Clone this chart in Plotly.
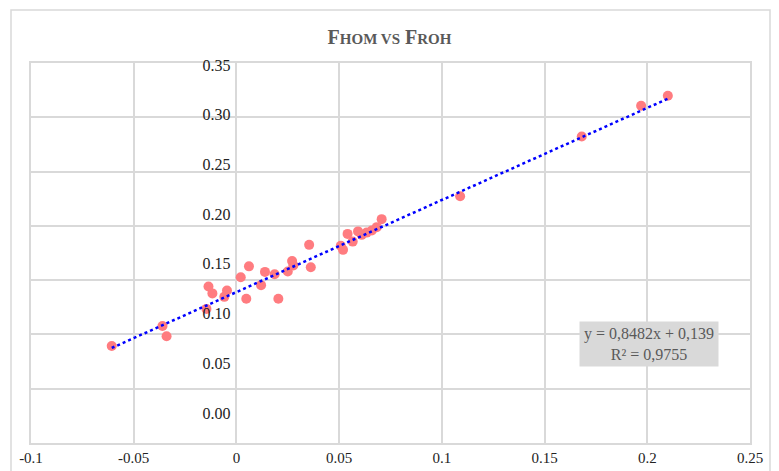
import plotly.graph_objects as go

# Data
froh = [-0.0607, -0.0360, -0.0340, -0.0136, -0.0117, -0.0146, -0.0059, -0.0046,
        0.0021, 0.0061, 0.0048, 0.0120, 0.0139, 0.0186, 0.0204, 0.0250, 0.0271,
        0.0277, 0.0354, 0.0362, 0.0508, 0.0519, 0.0541, 0.0566, 0.0592, 0.0610,
        0.0634, 0.0659, 0.0683, 0.0707, 0.1089, 0.1681, 0.1970, 0.2100]
fhom = [0.0894, 0.1078, 0.0983, 0.1441, 0.1378, 0.1235, 0.1346, 0.1404,
        0.1527, 0.1627, 0.1329, 0.1454, 0.1576, 0.1555, 0.1329, 0.1579, 0.1677,
        0.1636, 0.1825, 0.1619, 0.1816, 0.1779, 0.1926, 0.1855, 0.1949, 0.1917,
        0.1938, 0.1957, 0.1988, 0.2062, 0.2272, 0.2823, 0.3106, 0.3198]

slope = 0.8482
intercept = 0.139
r2 = 0.9755

x_ticks = [-0.1, -0.05, 0, 0.05, 0.1, 0.15, 0.2, 0.25]
x_tick_labels = ["-0.1", "-0.05", "0", "0.05", "0.1", "0.15", "0.2", "0.25"]
y_ticks = [0.0, 0.05, 0.10, 0.15, 0.20, 0.25, 0.30, 0.35]
y_tick_labels = ["0.00", "0.05", "0.10", "0.15", "0.20", "0.25", "0.30", "0.35"]

trend_x = [min(froh), max(froh)]
trend_y = [slope * v + intercept for v in trend_x]

GRID = "#d9d9d9"
SERIF = "Liberation Serif, Times New Roman, serif"

fig = go.Figure()
fig.add_trace(go.Scatter(
    x=froh, y=fhom, mode="markers",
    marker=dict(color="#ff7c80", size=10, line=dict(width=0)),
    showlegend=False, hoverinfo="x+y"))
fig.add_trace(go.Scatter(
    x=trend_x, y=trend_y, mode="lines",
    line=dict(color="#0000ff", width=2.5, dash="dot"),
    showlegend=False, hoverinfo="skip"))
# invisible trace carrying the y tick labels (placed on the axis at x=0)
fig.add_trace(go.Scatter(x=[0], y=[0], yaxis="y2", mode="markers",
                         marker=dict(opacity=0), showlegend=False, hoverinfo="skip"))

x_min, x_max = -0.1, 0.25
y2_pos = (0 - x_min) / (x_max - x_min)

small = "font-size:15px"
title_text = ("F<span style='%s'>HOM VS</span> F<span style='%s'>ROH</span>" % (small, small))


def fmt(v, d):
    return f"{v:.{d}f}".replace(".", ",")


eq_text = f"y = {fmt(slope, 4)}x + {fmt(intercept, 3)}<br>R² = {fmt(r2, 4)}"

fig.update_layout(
    width=779, height=471,
    margin=dict(l=31, r=29, t=63, b=28),
    paper_bgcolor="white", plot_bgcolor="white",
    title=dict(text="<b>" + title_text + "</b>", x=0.5, xanchor="center",
               y=0.922, yanchor="middle",
               font=dict(family=SERIF, size=20, color="#595959")),
    xaxis=dict(range=[x_min, x_max], tickvals=x_ticks, ticktext=x_tick_labels,
               automargin=False,
               showgrid=True, gridcolor=GRID, gridwidth=1.5,
               showline=True, linecolor=GRID, linewidth=1.5, mirror=True,
               zeroline=True, zerolinecolor=GRID, zerolinewidth=1.5,
               ticks="", tickfont=dict(family=SERIF, size=15, color="#222222")),
    yaxis=dict(range=[0, 0.35], tickvals=y_ticks, showticklabels=False,
               automargin=False,
               showgrid=True, gridcolor=GRID, gridwidth=1.5,
               showline=True, linecolor=GRID, linewidth=1.5, mirror=True,
               zeroline=False, ticks=""),
    yaxis2=dict(overlaying="y", anchor="free", position=y2_pos, side="left",
                automargin=False,
                range=[-0.0302, 0.3521], tickvals=y_ticks, ticktext=y_tick_labels,
                showgrid=False, zeroline=False, showline=False, ticks="",
                ticklabelstandoff=6,
                tickfont=dict(family=SERIF, size=16, color="#222222")),
    annotations=[dict(
        xref="paper", yref="paper", x=0.86, y=0.2605, xanchor="center", yanchor="middle",
        text=eq_text,
        showarrow=False, bgcolor="#d9d9d9", borderpad=3, width=132,
        font=dict(family=SERIF, size=16, color="#595959"))],
    shapes=[dict(type="rect", xref="paper", yref="paper",
                 x0=-20 / 719, x1=739 / 719, y0=-40 / 380, y1=433 / 380,
                 line=dict(color=GRID, width=1.5), fillcolor="rgba(0,0,0,0)", layer="below")],
)

fig.write_html("out.html", config={"displayModeBar": False},
               post_script="document.body.style.margin='0';document.body.style.overflow='hidden';")
